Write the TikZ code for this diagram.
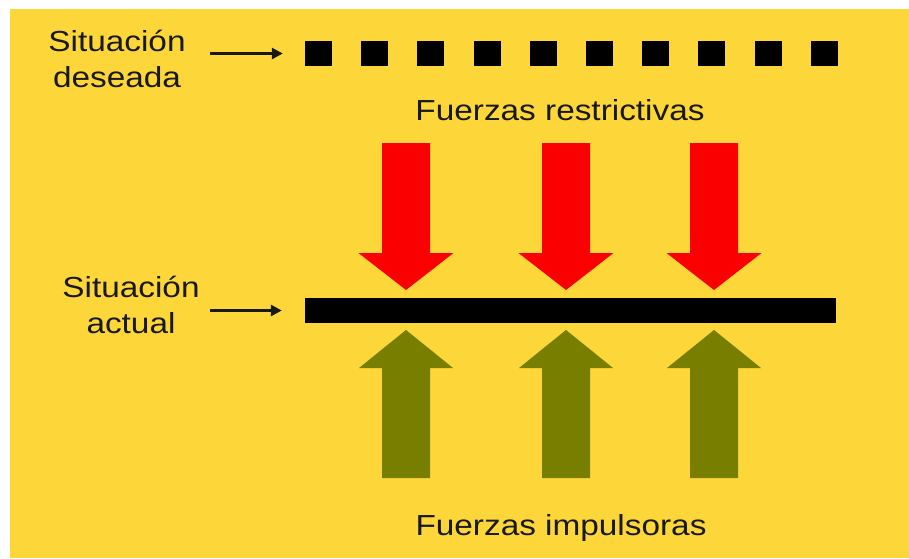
\documentclass[tikz,border=0pt]{standalone}
\usepackage{fontspec}
\setmainfont[FakeStretch=1.15]{Liberation Sans}
\usetikzlibrary{arrows.meta}
\definecolor{bgyellow}{RGB}{253,214,58}
\definecolor{forcered}{RGB}{250,0,0}
\definecolor{forceolive}{RGB}{120,126,0}
\definecolor{ink}{RGB}{25,25,20}
\begin{document}
\begin{tikzpicture}[x=1pt,y=-1pt,
  lbl/.style={inner sep=0pt, text=ink, font=\fontsize{29}{36}\selectfont, align=center},
  pointer/.style={draw=ink, line width=3.5pt, -{Triangle[length=11pt,width=11pt]}},
  sq/.style={fill=black, minimum width=27pt, minimum height=25pt, inner sep=0pt},
  barstyle/.style={fill=black, minimum width=531pt, minimum height=25pt, inner sep=0pt},
  redforce/.style={fill=forcered},
  greenforce/.style={fill=forceolive}]
\useasboundingbox (0,0) rectangle (909,558);
\fill[white] (0,0) rectangle (909,558);
\fill[bgyellow] (10,9) rectangle (909,558);

% desired situation: dotted line of squares
\foreach \i in {1,...,10} \node[sq] (d\i) at ({318.5+(\i-1)*56.2},53.5) {};

% current situation: bar
\node[barstyle] (bar) at (570.5,310.5) {};

% labels
\node[lbl, anchor=base] (des) at (117,87) {Situación\\deseada};
\node[lbl, anchor=base] (act) at (131,333) {Situación\\actual};
\node[lbl, anchor=base] (restr) at (560,120) {Fuerzas restrictivas};
\node[lbl, anchor=base] (impul) at (561,535) {Fuerzas impulsoras};

% pointers
\draw[pointer] ([xshift=24pt]des.east |- d1.west) -- ([xshift=-22pt]d1.west);
\draw[pointer] ([xshift=10pt]act.east |- bar.west) -- ([xshift=-23pt]bar.west);

% force arrows
\foreach \c in {406,566,714} {
  \fill[redforce] ({\c-24},143) -- ({\c+24},143) -- ({\c+24},253) -- ({\c+47.5},253)
    -- (\c,290) -- ({\c-47.5},253) -- ({\c-24},253) -- cycle;
  \fill[greenforce] ({\c-24},478) -- ({\c+24},478) -- ({\c+24},368) -- ({\c+47},368)
    -- (\c,330) -- ({\c-47},368) -- ({\c-24},368) -- cycle;
}
\end{tikzpicture}
\end{document}
